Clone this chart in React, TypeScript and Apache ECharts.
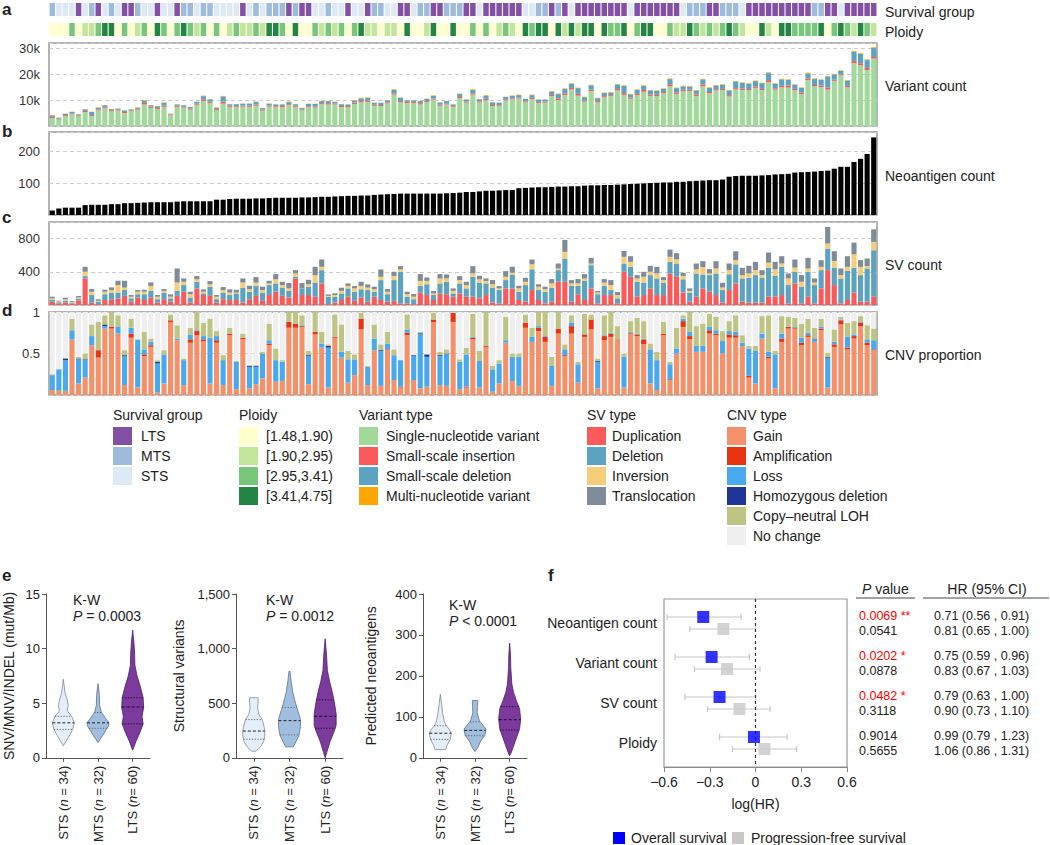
import React, { useEffect, useRef } from "react";
import * as echarts from "echarts";

const FONT = "Liberation Sans, Arial, sans-serif";
const TXT = "#222222";

// ---------------- panels a–d : per-tumour data (126 tumours, ordered by neoantigen count) ----------------
const survivalGroup = (
  "MSSSLSMLSM" + "SLLMSSLSSL" + "MMSMMSSSSL" + "SMSMMMLMLL" + "SSMSSLSSLM" +
  "MSSLLSMMLL" + "MMMLLSLLLL" + "LLSSMMLMLS" + "LLLLLLLLSL" + "LLLLLLSMMM" +
  "LLMMMSLLLL" + "LLLLLLMMLL" + "SLLLLL"
).split("");

const ploidyBin = (
  "1113122344" + "1312314313" + "4323131232" + "2324431411" + "3232313422" +
  "1221411241" + "1411313123" + "2143441424" + "2441433413" + "4411322432" +
  "3234321142" + "1443333413" + "432432"
).split("").map(Number);

const sampleIds = survivalGroup.map((_, i) => "T" + (i + 1));

// variant counts (thousands)
const snvK = [
  3.1, 2.5, 3.8, 4.5, 3.7, 5.4, 3.8, 6.0, 6.8, 5.7,
  6.0, 5.0, 5.7, 6.3, 8.3, 7.0, 6.5, 7.4, 4.1, 7.4,
  7.1, 6.3, 8.2, 9.7, 8.9, 6.2, 8.6, 7.4, 7.2, 7.5,
  7.4, 7.8, 5.9, 7.5, 7.2, 7.3, 8.0, 7.4, 6.0, 7.2,
  7.1, 8.4, 8.3, 8.3, 7.3, 7.3, 8.5, 9.1, 9.3, 7.8,
  7.7, 8.7, 12.1, 9.1, 8.9, 8.9, 8.3, 9.2, 10.2, 7.8,
  8.3, 7.4, 10.8, 9.0, 12.1, 9.1, 9.9, 7.7, 7.8, 9.9,
  10.2, 10.6, 9.1, 10.4, 8.9, 9.0, 11.5, 10.0, 11.9, 14.1,
  11.7, 9.4, 13.4, 9.1, 11.0, 11.5, 13.7, 12.0, 10.5, 11.9,
  13.2, 11.6, 11.5, 12.7, 15.3, 12.4, 13.4, 13.5, 11.6, 15.3,
  12.6, 13.7, 13.8, 11.4, 14.1, 13.9, 13.8, 14.7, 13.8, 16.9,
  14.0, 14.9, 14.8, 13.7, 12.3, 17.7, 15.3, 15.0, 14.0, 17.4,
  19.5, 14.9, 24.2, 23.4, 21.6, 26.0,
];
const insK = [
  0.4, 0.3, 0.4, 0.3, 0.3, 0.4, 0.4, 0.4, 0.4, 0.4,
  0.3, 0.4, 0.3, 0.3, 0.6, 0.4, 0.4, 0.4, 0.3, 0.4,
  0.3, 0.4, 0.4, 0.6, 0.5, 0.4, 0.8, 0.4, 0.4, 0.4,
  0.4, 0.5, 0.4, 0.4, 0.4, 0.4, 0.4, 0.4, 0.3, 0.4,
  0.4, 0.4, 0.5, 0.4, 0.4, 0.4, 0.5, 0.5, 0.5, 0.4,
  0.4, 0.4, 0.5, 0.5, 0.4, 0.4, 0.5, 0.4, 0.4, 0.4,
  0.4, 0.3, 0.4, 0.4, 0.5, 0.4, 0.6, 0.4, 0.3, 0.4,
  0.4, 0.4, 0.4, 0.5, 0.4, 0.4, 0.5, 0.7, 0.7, 0.6,
  0.7, 0.4, 0.6, 0.5, 0.5, 0.4, 0.6, 0.7, 0.5, 0.5,
  0.7, 0.5, 0.5, 0.4, 0.8, 0.6, 0.6, 0.5, 0.6, 0.7,
  0.5, 0.5, 0.5, 0.5, 0.5, 0.5, 0.5, 0.6, 0.5, 0.8,
  0.5, 0.6, 0.8, 0.6, 0.6, 0.6, 0.5, 0.6, 0.8, 0.5,
  0.4, 0.6, 0.9, 0.8, 0.8, 0.6,
];
const delK = [
  0.6, 0.4, 0.5, 0.6, 0.5, 0.6, 1.2, 0.6, 0.8, 0.4,
  0.4, 0.6, 0.4, 0.5, 0.9, 0.6, 0.7, 1.1, 0.3, 0.5,
  0.6, 0.6, 0.7, 1.2, 0.9, 0.5, 2.0, 0.6, 0.8, 0.7,
  0.8, 1.0, 0.6, 0.7, 0.7, 0.6, 0.8, 0.6, 0.6, 0.9,
  1.0, 0.8, 0.8, 0.6, 0.7, 0.6, 0.8, 1.1, 1.0, 0.7,
  0.8, 0.8, 1.4, 1.3, 0.6, 0.6, 0.8, 0.9, 1.0, 0.8,
  0.9, 0.6, 1.1, 0.8, 1.3, 0.8, 1.2, 1.0, 0.9, 0.9,
  1.0, 0.9, 0.9, 1.0, 0.9, 0.8, 1.3, 1.6, 1.7, 1.6,
  2.2, 1.3, 1.7, 1.1, 1.2, 1.0, 1.7, 2.8, 1.2, 1.5,
  1.6, 1.6, 1.6, 1.2, 2.0, 1.6, 1.3, 1.2, 1.5, 2.0,
  1.6, 1.4, 1.6, 1.8, 2.6, 2.2, 2.0, 2.0, 2.2, 2.7,
  1.8, 2.5, 2.2, 1.6, 1.8, 2.0, 2.3, 2.2, 4.3, 2.0,
  1.4, 2.0, 3.6, 3.6, 3.0, 3.5,
];
const mnvK = [
  0.1, 0.1, 0.1, 0.1, 0.1, 0.1, 0.1, 0.2, 0.1, 0.1,
  0.1, 0.1, 0.1, 0.1, 0.2, 0.1, 0.1, 0.2, 0.1, 0.1,
  0.1, 0.1, 0.1, 0.2, 0.1, 0.1, 0.2, 0.1, 0.1, 0.1,
  0.1, 0.1, 0.1, 0.1, 0.1, 0.1, 0.2, 0.1, 0.1, 0.1,
  0.1, 0.1, 0.1, 0.1, 0.1, 0.1, 0.2, 0.2, 0.2, 0.1,
  0.1, 0.1, 0.2, 0.1, 0.1, 0.1, 0.1, 0.1, 0.2, 0.1,
  0.1, 0.1, 0.2, 0.1, 0.2, 0.1, 0.2, 0.1, 0.1, 0.1,
  0.2, 0.2, 0.1, 0.2, 0.1, 0.1, 0.2, 0.2, 0.2, 0.2,
  0.2, 0.2, 0.2, 0.2, 0.2, 0.2, 0.2, 0.2, 0.2, 0.2,
  0.2, 0.2, 0.2, 0.2, 0.2, 0.2, 0.2, 0.2, 0.2, 0.2,
  0.2, 0.2, 0.2, 0.2, 0.2, 0.2, 0.2, 0.2, 0.2, 0.3,
  0.2, 0.2, 0.2, 0.2, 0.2, 0.3, 0.2, 0.2, 0.2, 0.2,
  0.2, 0.2, 0.3, 0.3, 0.3, 0.3,
];

const neoantigenCount = [
  14, 20, 23, 23, 23, 31, 32, 32, 32, 34,
  34, 37, 37, 38, 39, 40, 40, 40, 40, 42,
  43, 43, 43, 43, 43, 48, 48, 50, 51, 51,
  51, 52, 52, 53, 54, 54, 54, 54, 55, 55,
  56, 57, 57, 58, 59, 60, 60, 61, 61, 63,
  64, 65, 66, 67, 67, 67, 67, 67, 67, 67,
  68, 69, 70, 72, 72, 74, 76, 76, 77, 78,
  78, 84, 85, 86, 87, 87, 88, 89, 89, 90,
  90, 92, 93, 93, 94, 94, 95, 96, 97, 98,
  99, 100, 101, 102, 102, 104, 104, 106, 107, 108,
  109, 109, 111, 120, 122, 123, 123, 123, 124, 125,
  127, 128, 129, 133, 134, 135, 136, 138, 139, 145,
  151, 151, 166, 176, 191, 243,
];

const svDuplication = [
  40, 20, 30, 20, 55, 320, 30, 10, 60, 70,
  80, 110, 40, 90, 60, 90, 30, 70, 40, 110,
  160, 30, 200, 120, 110, 30, 70, 60, 60, 30,
  70, 110, 50, 120, 160, 110, 90, 320, 120, 120,
  100, 260, 10, 30, 60, 100, 50, 90, 40, 100,
  60, 40, 50, 20, 20, 10, 150, 120, 60, 140,
  130, 100, 140, 100, 100, 80, 120, 30, 20, 200,
  200, 60, 40, 180, 60, 20, 40, 280, 280, 40,
  130, 60, 200, 20, 120, 120, 20, 400, 340, 100,
  120, 200, 120, 120, 380, 340, 150, 40, 100, 200,
  160, 120, 30, 180, 260, 40, 30, 30, 30, 100,
  100, 120, 20, 260, 20, 100, 20, 200, 420, 240,
  20, 60, 150, 40, 40, 100,
];
const svDeletion = [
  20, 12, 20, 10, 20, 28, 90, 30, 70, 80,
  70, 70, 40, 40, 70, 80, 40, 80, 40, 60,
  80, 60, 80, 20, 110, 40, 80, 60, 80, 180,
  90, 120, 100, 120, 100, 100, 80, 20, 80, 100,
  170, 160, 90, 70, 80, 100, 110, 100, 140, 60,
  240, 90, 250, 380, 80, 60, 80, 130, 60, 120,
  150, 40, 120, 100, 240, 190, 140, 180, 160, 100,
  160, 100, 200, 250, 120, 140, 170, 140, 280, 190,
  100, 230, 280, 110, 110, 60, 60, 100, 120, 180,
  150, 160, 200, 150, 140, 160, 160, 110, 280, 168,
  200, 260, 150, 190, 230, 280, 300, 330, 300, 350,
  250, 340, 220, 140, 200, 300, 220, 220, 260, 210,
  300, 350, 300, 320, 400, 560,
];
const svInversion = [
  20, 10, 18, 8, 15, 52, 40, 10, 30, 30,
  90, 30, 20, 30, 30, 60, 30, 20, 20, 100,
  40, 40, 30, 20, 30, 30, 30, 30, 10, 60,
  30, 40, 30, 20, 50, 30, 30, 40, 0, 30,
  90, 40, 10, 20, 30, 30, 40, 40, 30, 30,
  40, 30, 50, 30, 30, 30, 60, 40, 20, 60,
  40, 30, 40, 40, 40, 40, 30, 40, 20, 40,
  30, 40, 40, 60, 40, 30, 50, 20, 80, 30,
  30, 30, 20, 20, 40, 60, 40, 80, 60, 40,
  70, 40, 60, 30, 60, 50, 40, 20, 50, 88,
  20, 60, 30, 50, 50, 40, 50, 60, 30, 60,
  80, 40, 80, 50, 60, 40, 30, 40, 60, 80,
  40, 50, 160, 100, 30, 100,
];
const svTranslocation = [
  20, 10, 20, 10, 18, 60, 32, 18, 24, 32,
  52, 82, 20, 20, 24, 42, 20, 22, 28, 170,
  40, 30, 38, 28, 38, 20, 36, 38, 34, 50,
  42, 66, 40, 32, 62, 40, 64, 40, 64, 54,
  100, 88, 18, 20, 38, 30, 28, 50, 38, 30,
  88, 32, 50, 38, 30, 32, 82, 42, 28, 52,
  48, 30, 48, 40, 88, 42, 30, 50, 28, 68,
  70, 32, 48, 58, 30, 30, 52, 60, 144, 40,
  52, 52, 68, 18, 42, 60, 36, 72, 68, 40,
  60, 72, 80, 36, 88, 74, 38, 30, 70, 72,
  52, 88, 58, 80, 108, 88, 92, 100, 60, 122,
  90, 88, 60, 98, 80, 128, 50, 80, 200, 118,
  80, 128, 142, 80, 90, 152,
];

// CNV proportions of the genome
const cnvGain = [
  0.06, 0.05, 0.05, 0.67, 0.14, 0.21, 0.60, 0.45, 0.80, 0.80,
  0.74, 0.12, 0.69, 0.09, 0.47, 0.58, 0.03, 0.14, 0.88, 0.66,
  0.12, 0.63, 0.72, 0.65, 0.14, 0.63, 0.12, 0.72, 0.07, 0.67,
  0.08, 0.13, 0.20, 0.60, 0.16, 0.17, 0.81, 0.81, 0.82, 0.13,
  0.73, 0.57, 0.09, 0.69, 0.45, 0.15, 0.24,
  0.79, 0.12, 0.54, 0.11, 0.54, 0.18, 0.09, 0.72, 0.18, 0.08,
  0.10, 0.88, 0.12, 0.11, 0.88, 0.07, 0.09, 0.67, 0.09, 0.58,
  0.04, 0.14, 0.63, 0.17, 0.11, 0.81, 0.64, 0.77, 0.64, 0.11,
  0.74, 0.47, 0.74, 0.15, 0.70, 0.79, 0.08, 0.66, 0.70, 0.66,
  0.09, 0.74, 0.71, 0.61, 0.14, 0.06, 0.72, 0.18, 0.50, 0.82, 0.67, 0.52,
  0.52, 0.74, 0.72, 0.50, 0.69, 0.69, 0.59, 0.21, 0.14, 0.68,
  0.44, 0.08, 0.64, 0.80, 0.80, 0.60, 0.70, 0.64, 0.78, 0.09,
  0.58, 0.85, 0.55, 0.68, 0.83, 0.60, 0.54,
];
const cnvAmplification = [
  0, 0, 0, 0, 0, 0, 0, 0.09, 0, 0.02,
  0, 0, 0.05, 0, 0.02, 0.02, 0, 0, 0.02, 0,
  0, 0.04, 0.05, 0.02, 0, 0.03, 0, 0.02, 0, 0.02,
  0, 0, 0, 0.02, 0, 0, 0.07, 0.05, 0.01, 0,
  0.03, 0, 0, 0.01, 0, 0, 0,
  0.13, 0, 0, 0, 0.01, 0, 0.01, 0.03, 0, 0,
  0, 0.03, 0, 0, 0.11, 0, 0.01, 0.02, 0, 0.01,
  0, 0, 0, 0, 0, 0.06, 0, 0.04, 0.06, 0,
  0.06, 0.01, 0.09, 0, 0.03, 0.12, 0, 0.05, 0.04, 0.01,
  0, 0.01, 0.02, 0.06, 0, 0, 0.02, 0.01, 0, 0.07, 0.04, 0,
  0, 0.04, 0.02, 0, 0.04, 0.03, 0, 0.02, 0, 0,
  0.02, 0, 0.04, 0.02, 0.01, 0.03, 0.02, 0, 0.02, 0,
  0.03, 0.05, 0.02, 0.03, 0.04, 0.03, 0.01,
];
const cnvLoss = [
  0.18, 0.26, 0.37, 0.11, 0.29, 0.21, 0.11, 0, 0.03, 0,
  0.08, 0.35, 0.07, 0.58, 0.06, 0.04, 0.35, 0.35, 0, 0.02,
  0.30, 0.06, 0.01, 0.04, 0.55, 0.05, 0.30, 0, 0.33, 0,
  0.26, 0.21, 0.30, 0.04, 0.26, 0.23, 0, 0, 0.01, 0.34,
  0, 0.05, 0.48, 0, 0.07, 0.28, 0.19,
  0, 0.22, 0.14, 0.42, 0.07, 0.30, 0.32, 0.04, 0.29, 0.66,
  0.36, 0, 0.35, 0.38, 0, 0.33, 0.39, 0.01, 0.32, 0,
  0.27, 0.24, 0.03, 0.29, 0.35, 0, 0.06, 0.02, 0.01, 0.24,
  0, 0.07, 0.04, 0.22, 0, 0, 0.32, 0.01, 0.01, 0,
  0.37, 0.01, 0.01, 0.01, 0.41, 0.36, 0, 0.18, 0.06, 0.03, 0.05, 0.07,
  0.07, 0.04, 0.04, 0.15, 0.04, 0.04, 0.04, 0.33, 0.39, 0.06,
  0.06, 0.41, 0.06, 0, 0.01, 0.06, 0.03, 0.03, 0.02, 0.36,
  0.03, 0.01, 0.13, 0.02, 0.01, 0.04, 0.11,
];
const cnvHomDeletion = [
  0, 0, 0.02, 0, 0.01, 0.01, 0, 0, 0.02, 0,
  0, 0.01, 0, 0, 0, 0, 0.02, 0, 0, 0,
  0, 0, 0, 0, 0, 0, 0, 0, 0, 0,
  0.01, 0.01, 0, 0, 0, 0, 0, 0, 0, 0.01,
  0, 0, 0.02, 0, 0, 0, 0,
  0, 0, 0, 0.01, 0, 0, 0, 0, 0.01, 0.01,
  0.03, 0, 0.01, 0.01, 0, 0, 0, 0, 0, 0,
  0, 0, 0, 0, 0, 0, 0, 0, 0, 0,
  0, 0, 0, 0, 0, 0, 0.01, 0, 0, 0,
  0, 0, 0, 0, 0, 0, 0, 0, 0, 0, 0, 0,
  0, 0, 0, 0, 0, 0, 0, 0, 0, 0,
  0, 0, 0, 0, 0, 0, 0, 0.01, 0, 0.01,
  0, 0, 0, 0, 0, 0, 0,
];
const cnvCnLOH = [
  0.01, 0, 0.01, 0.14, 0.02, 0.07, 0.14, 0.34, 0.11, 0.18,
  0.14, 0.06, 0.11, 0, 0.21, 0.04, 0.02, 0.05, 0.07, 0.16,
  0.02, 0.08, 0.22, 0.16, 0.23, 0.06, 0.06, 0.07, 0.01, 0.05,
  0.01, 0.01, 0.02, 0.20, 0.14, 0.02, 0.12, 0.14, 0.12, 0.05,
  0.24, 0.14, 0.02, 0.27, 0.33, 0.10, 0.06,
  0.07, 0.01, 0.17, 0.07, 0.14, 0.07, 0, 0.18, 0, 0.01,
  0, 0.08, 0.04, 0.05, 0, 0.03, 0.08, 0.28, 0.12, 0.41,
  0.04, 0.04, 0.28, 0.04, 0.04, 0.10, 0.11, 0.17, 0.29, 0.11,
  0.20, 0.06, 0.09, 0.03, 0.25, 0.06, 0.03, 0.24, 0.25, 0.16,
  0.04, 0.13, 0.19, 0.21, 0.07, 0.10, 0.14, 0.03, 0.25, 0.04, 0.24, 0.24,
  0.27, 0.16, 0.16, 0.12, 0.12, 0.20, 0.09, 0.03, 0.06, 0.21,
  0.44, 0.04, 0.21, 0.12, 0.11, 0.17, 0.17, 0.13, 0.10, 0.05,
  0.15, 0.03, 0.17, 0.16, 0.07, 0.17, 0.14,
];

// ---------------- panel e : violins ----------------
const violinGroups = ["STS", "MTS", "LTS"];
const violinLabels = ["STS ({i|n} = 34)", "MTS ({i|n} = 32)", "LTS ({i|n}= 60)"];

const tmbLevels = [
  [1.1, 1.6, 2.1, 2.6, 3.2, 3.8, 4.3, 4.8, 5.3, 6.0, 7.2],
  [1.4, 2.0, 2.5, 2.9, 3.2, 3.6, 4.2, 4.8, 5.8, 6.8],
  [0.7, 1.5, 2.3, 3.1, 3.8, 4.6, 5.5, 6.5, 7.5, 8.5, 9.5, 10.5, 11.7],
];
const tmbDensity = [
  [0, 0.3, 0.6, 0.85, 1.0, 0.75, 0.35, 0.45, 0.35, 0.15, 0],
  [0, 0.4, 0.7, 0.95, 1.0, 0.7, 0.3, 0.15, 0.12, 0],
  [0, 0.3, 0.65, 0.95, 0.85, 1.0, 0.95, 0.7, 0.4, 0.2, 0.18, 0.12, 0],
];
const tmbQuartiles = [[2.6, 3.2, 3.8], [2.7, 3.2, 4.15], [3.1, 4.65, 5.5]];

const svLevels = [
  [60, 100, 150, 200, 250, 300, 350, 400, 450, 500, 550],
  [100, 150, 200, 250, 300, 350, 400, 450, 500, 600, 700, 790],
  [0, 50, 150, 250, 300, 400, 500, 600, 700, 800, 950, 1090],
];
const svDensity = [
  [0.2, 0.6, 0.9, 1.0, 1.0, 0.9, 0.75, 0.45, 0.35, 0.38, 0.4],
  [0.35, 0.6, 0.85, 0.95, 1.0, 1.0, 0.85, 0.7, 0.55, 0.3, 0.15, 0.05],
  [0, 0.15, 0.45, 0.85, 1.0, 1.0, 0.85, 0.65, 0.4, 0.2, 0.12, 0],
];
const svQuartiles = [[170, 245, 350], [210, 340, 460], [270, 380, 530]];

const neoLevels = [
  [20, 30, 45, 60, 70, 80, 90, 110, 130, 155],
  [15, 25, 40, 55, 70, 80, 90, 110, 125, 140],
  [5, 10, 40, 70, 95, 120, 140, 160, 180, 220, 250, 280],
];
const neoDensity = [
  [0.5, 0.6, 0.9, 1.0, 0.8, 0.5, 0.35, 0.2, 0.12, 0],
  [0, 0.25, 0.5, 0.9, 1.0, 0.7, 0.4, 0.2, 0.22, 0.25],
  [0, 0.1, 0.5, 0.9, 1.0, 0.9, 0.6, 0.35, 0.2, 0.1, 0.08, 0],
];
const neoQuartiles = [[45, 60, 78], [54, 67, 88], [68, 93, 125]];

// ---------------- panel f : forest plot ----------------
const forestRows = ["Neoantigen count", "Variant count", "SV count", "Ploidy"];
const osHR = [0.71, 0.75, 0.79, 0.99];
const osLow = [0.56, 0.59, 0.63, 0.79];
const osHigh = [0.91, 0.96, 1.0, 1.23];
const osP = ["0.0069", "0.0202", "0.0482", "0.9014"];
const osStars = ["**", "*", "*", ""];
const pfsHR = [0.81, 0.83, 0.9, 1.06];
const pfsLow = [0.65, 0.67, 0.73, 0.86];
const pfsHigh = [1.0, 1.03, 1.1, 1.31];
const pfsP = ["0.0541", "0.0878", "0.3118", "0.5655"];

// ---------------- colours ----------------
const SURV_COLOR: any = { L: "#8450a6", M: "#9fbbdc", S: "#dde9f5" };
const PLOIDY_COLOR = ["#ffffcc", "#c2e699", "#78c679", "#238443"];
const VAR_COLOR = ["#a1d99b", "#fb5a5a", "#5ba3c1", "#ffa600"];
const SV_COLOR = ["#fb5a5a", "#5ba3c1", "#f6cd78", "#7f8b98"];
const CNV_COLOR = ["#f4916a", "#ea3311", "#48a9ef", "#1f3597", "#bdc484", "#efefef"];
const VIOLIN_FILL = ["#e4eef8", "#a2bede", "#7c3a9c"];
const VIOLIN_STROKE = ["#7d8a99", "#5d7190", "#4a1f63"];

const survivalLegend = ["LTS", "MTS", "STS"];
const ploidyLegend = ["[1.48,1.90)", "[1.90,2.95)", "[2.95,3.41)", "[3.41,4.75]"];
const variantLegend = ["Single-nucleotide variant", "Small-scale insertion", "Small-scale deletion", "Multi-nucleotide variant"];
const svLegend = ["Duplication", "Deletion", "Inversion", "Translocation"];
const cnvLegend = ["Gain", "Amplification", "Loss", "Homozygous deletion", "Copy\u2013neutral LOH", "No change"];

function interp(xs: number[], ys: number[], x: number) {
  for (let j = 0; j < xs.length - 1; j++) {
    if (x >= xs[j] && x <= xs[j + 1]) {
      const t = (x - xs[j]) / (xs[j + 1] - xs[j]);
      return ys[j] + t * (ys[j + 1] - ys[j]);
    }
  }
  return 0;
}

function buildOption() {
  const boxed = { show: true, borderColor: "#9a9a9a", borderWidth: 1.5, backgroundColor: "rgba(0,0,0,0)" };
  const grid: any[] = [
    { left: 49, top: 3, width: 828, height: 13 },
    { left: 49, top: 23, width: 828, height: 13 },
    { left: 49, top: 43, width: 828, height: 83, ...boxed },
    { left: 49, top: 132, width: 828, height: 83, ...boxed },
    { left: 49, top: 222, width: 828, height: 83, ...boxed },
    { left: 49, top: 312, width: 828, height: 83, ...boxed },
    { left: 46, top: 594, width: 104, height: 166 },
    { left: 236, top: 594, width: 107, height: 166 },
    { left: 423, top: 594, width: 104, height: 166 },
    { left: 664, top: 599, width: 183, height: 168, show: true, borderColor: "#9a9a9a", borderWidth: 1.2, backgroundColor: "rgba(0,0,0,0)" },
  ];

  const xAxis: any[] = [];
  const yAxis: any[] = [];
  for (let i = 0; i < 6; i++) {
    xAxis.push({ type: "category", gridIndex: i, data: sampleIds, show: false });
  }
  const countAxis = (gridIndex: number, max: number, interval: number, fmt: (v: number) => string) => ({
    type: "value", gridIndex, min: 0, max, interval,
    axisLine: { show: false }, axisTick: { show: false },
    axisLabel: { fontSize: 13, color: "#333", fontFamily: FONT, margin: 9, formatter: fmt },
    splitLine: { show: true, lineStyle: { type: [4, 3], color: "#cccccc", width: 1 } },
  });
  yAxis.push({ type: "value", gridIndex: 0, min: 0, max: 1, show: false });
  yAxis.push({ type: "value", gridIndex: 1, min: 0, max: 1, show: false });
  yAxis.push(countAxis(2, 32, 10, (v) => (v > 0 && v % 10 === 0 ? v + "k" : "")));
  yAxis.push(countAxis(3, 260, 100, (v) => (v > 0 && v % 100 === 0 ? String(v) : "")));
  yAxis.push(countAxis(4, 1000, 400, (v) => (v > 0 && v % 400 === 0 ? String(v) : "")));
  yAxis.push(countAxis(5, 1, 0.5, (v) => (v === 0.5 || v === 1 ? String(v) : "")));

  const violinX = (gridIndex: number) => ({
    type: "category", gridIndex, data: violinGroups,
    axisLine: { show: true, lineStyle: { color: "#555", width: 1 } },
    axisTick: { show: true, alignWithLabel: true, length: 4, lineStyle: { color: "#555" } },
    axisLabel: {
      rotate: 90, fontSize: 13, color: TXT, fontFamily: FONT, margin: 8,
      formatter: (_v: string, i: number) => violinLabels[i],
      rich: { i: { fontStyle: "italic", fontSize: 13, color: TXT, fontFamily: FONT } },
    },
  });
  const violinY = (gridIndex: number, max: number, interval: number, name: string, nameGap: number, fmt?: any) => ({
    type: "value", gridIndex, min: 0, max, interval, name, nameLocation: "middle", nameGap,
    nameTextStyle: { fontSize: 14, color: TXT, fontFamily: FONT },
    axisLine: { show: true, lineStyle: { color: "#555", width: 1 } },
    axisTick: { show: true, length: 4, lineStyle: { color: "#555" } },
    axisLabel: { fontSize: 13, color: TXT, fontFamily: FONT, margin: 6, formatter: fmt },
    splitLine: { show: false },
  });
  xAxis.push(violinX(6), violinX(7), violinX(8));
  yAxis.push(violinY(6, 15, 5, "SNV/MNV/INDEL (mut/Mb)", 30));
  yAxis.push(violinY(7, 1500, 500, "Structural variants", 50, (v: number) => v.toLocaleString("en-US")));
  yAxis.push(violinY(8, 400, 100, "Predicted neoantigens", 45));

  xAxis.push({
    type: "value", gridIndex: 9, min: -0.6, max: 0.6, interval: 0.3,
    axisLine: { show: true, onZero: false, lineStyle: { color: "#8a8a8a", width: 1.2 } },
    axisTick: { show: true, length: 5, lineStyle: { color: "#8a8a8a" } },
    axisLabel: {
      fontSize: 14, color: TXT, fontFamily: FONT, margin: 8,
      formatter: (v: number) => {
        const r = Math.round(v * 10) / 10;
        return r === 0 ? "0" : r < 0 ? "\u2212" + Math.abs(r) : String(r);
      },
    },
    splitLine: { show: false },
    name: "log(HR)", nameLocation: "middle", nameGap: 30,
    nameTextStyle: { fontSize: 14, color: TXT, fontFamily: FONT },
  });
  yAxis.push({ type: "value", gridIndex: 9, min: 0, max: 4.2, inverse: true, show: false });

  const series: any[] = [];
  // strips
  series.push({
    type: "bar", xAxisIndex: 0, yAxisIndex: 0, silent: true, barCategoryGap: "16%",
    data: survivalGroup.map((g) => ({ value: 1, itemStyle: { color: SURV_COLOR[g] } })),
  });
  series.push({
    type: "bar", xAxisIndex: 1, yAxisIndex: 1, silent: true, barCategoryGap: "16%",
    data: ploidyBin.map((b) => ({ value: 1, itemStyle: { color: PLOIDY_COLOR[b - 1] } })),
  });
  const stackBar = (name: string, data: number[], color: string, idx: number) => ({
    type: "bar", name, data, stack: "s" + idx, xAxisIndex: idx, yAxisIndex: idx,
    itemStyle: { color }, barCategoryGap: "22%", silent: true,
  });
  [snvK, insK, delK, mnvK].forEach((d, k) => series.push(stackBar(variantLegend[k], d, VAR_COLOR[k], 2)));
  series.push({ ...stackBar("Neoantigen count", neoantigenCount, "#000000", 3) });
  [svDuplication, svDeletion, svInversion, svTranslocation].forEach((d, k) => series.push(stackBar(svLegend[k], d, SV_COLOR[k], 4)));
  const cnvParts = [cnvGain, cnvAmplification, cnvLoss, cnvHomDeletion, cnvCnLOH];
  const noChange = cnvGain.map((_, i) => Math.max(0, 1 - cnvParts.reduce((s, arr) => s + arr[i], 0)));
  [...cnvParts, noChange].forEach((d, k) => series.push(stackBar(cnvLegend[k], d, CNV_COLOR[k], 5)));

  // violins
  const HALF = 11;
  const violinSeries = (idx: number, levels: number[][], density: number[][], quart: number[][]) => ({
    type: "custom", xAxisIndex: idx, yAxisIndex: idx, silent: true,
    data: [[0, 0], [1, 0], [2, 0]], encode: { x: 0, y: 1 },
    renderItem: (params: any, api: any) => {
      const k = params.dataIndex;
      const lv = levels[k];
      const dn = density[k];
      const cx = api.coord([k, 0])[0];
      const right = lv.map((v, j) => [cx + dn[j] * HALF, api.coord([k, v])[1]]);
      const left = lv.map((v, j) => [cx - dn[j] * HALF, api.coord([k, v])[1]]).reverse();
      const children: any[] = [
        { type: "polygon", shape: { points: right.concat(left) }, style: { fill: VIOLIN_FILL[k], stroke: VIOLIN_STROKE[k], lineWidth: 0.8 } },
      ];
      quart[k].forEach((q, qi) => {
        const w = interp(lv, dn, q) * HALF;
        const y = api.coord([k, q])[1];
        children.push({
          type: "line", shape: { x1: cx - w, y1: y, x2: cx + w, y2: y },
          style: {
            stroke: k === 2 ? "#1c0a28" : qi === 1 ? "#222" : "#666",
            lineWidth: 1, lineDash: qi === 1 ? [3, 2] : [1.2, 1.6],
          },
        });
      });
      return { type: "group", children };
    },
  });
  series.push(violinSeries(6, tmbLevels, tmbDensity, tmbQuartiles));
  series.push(violinSeries(7, svLevels, svDensity, svQuartiles));
  series.push(violinSeries(8, neoLevels, neoDensity, neoQuartiles));

  // forest
  const OS_OFF = 0.45;
  const PFS_OFF = 0.75;
  const errData = forestRows
    .map((_, i) => [Math.log(osLow[i]), Math.log(osHigh[i]), i + OS_OFF])
    .concat(forestRows.map((_, i) => [Math.log(pfsLow[i]), Math.log(pfsHigh[i]), i + PFS_OFF]));
  series.push({
    type: "custom", xAxisIndex: 9, yAxisIndex: 9, silent: true, data: errData, encode: { x: [0, 1], y: 2 }, z: 2,
    renderItem: (_p: any, api: any) => {
      const a = api.coord([api.value(0), api.value(2)]);
      const b = api.coord([api.value(1), api.value(2)]);
      const st = { stroke: "#c8c8c8", lineWidth: 1.2 };
      return {
        type: "group",
        children: [
          { type: "line", shape: { x1: a[0], y1: a[1], x2: b[0], y2: b[1] }, style: st },
          { type: "line", shape: { x1: a[0], y1: a[1] - 3, x2: a[0], y2: a[1] + 3 }, style: st },
          { type: "line", shape: { x1: b[0], y1: b[1] - 3, x2: b[0], y2: b[1] + 3 }, style: st },
        ],
      };
    },
  });
  series.push({
    type: "scatter", name: "Overall survival", xAxisIndex: 9, yAxisIndex: 9, silent: true, z: 5,
    symbol: "rect", symbolSize: 12, itemStyle: { color: "#0000ff" },
    data: osHR.map((h, i) => [Math.log(h), i + OS_OFF]),
    markLine: {
      silent: true, symbol: ["none", "none"], label: { show: false },
      lineStyle: { type: [3, 3], color: "#333", width: 1.2 },
      data: [{ xAxis: 0 }],
    },
  });
  series.push({
    type: "scatter", name: "Progression-free survival", xAxisIndex: 9, yAxisIndex: 9, silent: true, z: 4,
    symbol: "rect", symbolSize: 12, itemStyle: { color: "#c8c8c8" },
    data: pfsHR.map((h, i) => [Math.log(h), i + PFS_OFF]),
  });

  // graphics
  const g: any[] = [];
  const txt = (x: number, y: number, text: string, extra: any = {}) =>
    g.push({
      type: "text", x, y, silent: true,
      style: { text, fill: TXT, fontSize: 14, fontFamily: FONT, align: "left", verticalAlign: "middle", ...extra },
    });
  const rect = (x: number, y: number, w: number, h: number, fill: string) =>
    g.push({ type: "rect", silent: true, shape: { x, y, width: w, height: h }, style: { fill } });

  const letters: [string, number, number][] = [["a", 2, 9], ["b", 2, 131], ["c", 2, 217], ["d", 2, 310], ["e", 2, 575], ["f", 548, 575]];
  letters.forEach(([t, x, y]) => txt(x, y, t, { fontWeight: "bold", fontSize: 17 }));

  const rightLabels: [string, number][] = [["Survival group", 12], ["Ploidy", 32], ["Variant count", 86], ["Neoantigen count", 176], ["SV count", 265], ["CNV proportion", 355]];
  rightLabels.forEach(([t, y]) => txt(885, y, t));

  const legendCols: [string, number, number, string[], string[]][] = [
    ["Survival group", 113, 141, survivalLegend, [SURV_COLOR.L, SURV_COLOR.M, SURV_COLOR.S]],
    ["Ploidy", 239, 266, ploidyLegend, PLOIDY_COLOR],
    ["Variant type", 359, 386, variantLegend, VAR_COLOR],
    ["SV type", 587, 612, svLegend, SV_COLOR],
    ["CNV type", 727, 753, cnvLegend, CNV_COLOR],
  ];
  legendCols.forEach(([title, sx, tx, labels, colors]) => {
    txt(sx, 415, title);
    labels.forEach((lab, j) => {
      const cy = 436 + 20 * j;
      rect(sx, cy - 9, 19, 18, colors[j]);
      txt(tx, cy, lab);
    });
  });

  const kw: [number, number, number, string][] = [[73, 600, 616, " = 0.0003"], [266, 600, 616, " = 0.0012"], [449, 605, 621, " < 0.0001"]];
  kw.forEach(([x, y1, y2, p]) => {
    txt(x, y1, "K-W");
    txt(x, y2, "{i|P}" + p, { rich: { i: { fontStyle: "italic", fontSize: 14, fontFamily: FONT, fill: TXT } } });
  });

  // forest table: OS value above PFS value for each covariate
  const cell = { fontSize: 12.5 };
  forestRows.forEach((name, i) => {
    const yLab = 599 + (i + 0.6) * 40;
    const yMid = 599 + (i + (OS_OFF + PFS_OFF) / 2) * 40;
    const yOS = yMid - 7.5;
    const yPFS = yMid + 7.5;
    txt(657, yLab, name, { align: "right" });
    const sig = osStars[i] !== "";
    txt(859, yOS, osP[i] + (sig ? " " + osStars[i] : ""), { ...cell, fill: sig ? "#ff0000" : TXT });
    txt(859, yPFS, pfsP[i], cell);
    txt(934, yOS, `${osHR[i].toFixed(2)} (${osLow[i].toFixed(2)} , ${osHigh[i].toFixed(2)})`, cell);
    txt(934, yPFS, `${pfsHR[i].toFixed(2)} (${pfsLow[i].toFixed(2)} , ${pfsHigh[i].toFixed(2)})`, cell);
  });
  txt(862, 589, "{i|P} value", { rich: { i: { fontStyle: "italic", fontSize: 14, fontFamily: FONT, fill: TXT } } });
  txt(987, 589, "HR (95% CI)", { align: "center" });
  g.push({ type: "line", silent: true, shape: { x1: 856, y1: 598, x2: 915, y2: 598 }, style: { stroke: "#444", lineWidth: 1 } });
  g.push({ type: "line", silent: true, shape: { x1: 923, y1: 598, x2: 1049, y2: 598 }, style: { stroke: "#444", lineWidth: 1 } });

  rect(613, 832, 12, 12, "#0000ff");
  txt(631, 838, "Overall survival");
  rect(732, 832, 12, 12, "#c8c8c8");
  txt(751, 838, "Progression-free survival");

  return {
    animation: false,
    backgroundColor: "#ffffff",
    textStyle: { fontFamily: FONT },
    grid, xAxis, yAxis, series,
    graphic: { elements: g },
  };
}

export default function App() {
  const ref = useRef<HTMLDivElement>(null);
  useEffect(() => {
    const chart = echarts.init(ref.current as HTMLDivElement, undefined, { renderer: "svg" });
    chart.setOption(buildOption() as any);
    return () => chart.dispose();
  }, []);
  return <div ref={ref} style={{ position: "fixed", left: 0, top: 0, width: 1050, height: 845, background: "#fff" }} />;
}
